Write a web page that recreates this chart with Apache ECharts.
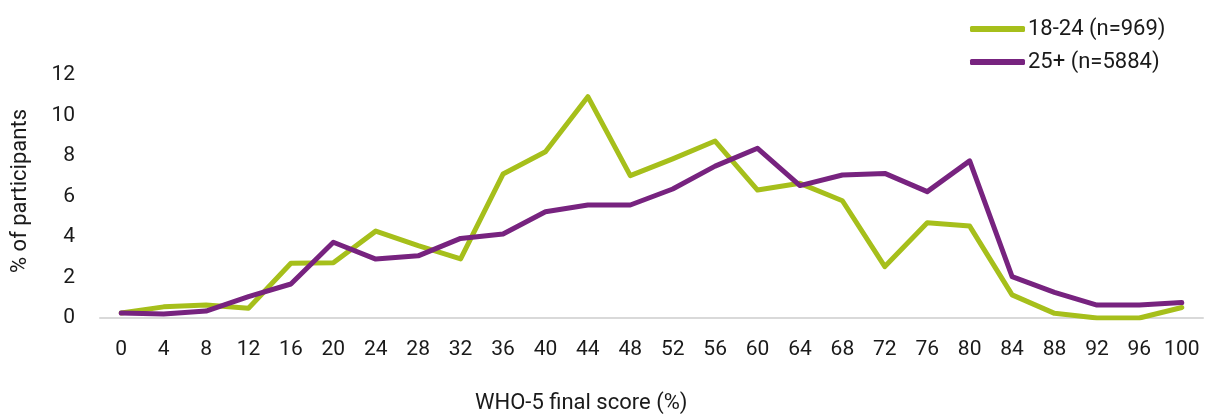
<!DOCTYPE html>
<html>
<head>
<meta charset="utf-8">
<script src="https://cdn.jsdelivr.net/npm/echarts@6/dist/echarts.min.js"></script>
<style>
html,body{margin:0;padding:0;background:#fff;}
#c{width:1209px;height:415px;}
</style>
</head>
<body>
<div id="c"></div>
<script>
const categories = ['0','4','8','12','16','20','24','28','32','36','40','44','48','52','56','60','64','68','72','76','80','84','88','92','96','100'];
const seriesNames = ['18-24 (n=969)', '25+ (n=5884)'];
const young = [0.25,0.55,0.64,0.48,2.7,2.73,4.29,3.57,2.92,7.11,8.21,10.93,7.03,7.86,8.74,6.32,6.65,5.79,2.54,4.7,4.54,1.14,0.23,0.0,0.0,0.52];
const older = [0.25,0.2,0.34,1.06,1.68,3.74,2.91,3.07,3.93,4.15,5.25,5.58,5.58,6.37,7.5,8.38,6.54,7.06,7.14,6.24,7.76,2.04,1.27,0.64,0.64,0.76];
const yTicks = [0,2,4,6,8,10,12];
const xTitle = 'WHO-5 final score (%)';
const yTitle = '% of participants';

const FONT = 'Roboto';
const GREEN = '#a6bf1b';
const PURPLE = '#77237f';

const chart = echarts.init(document.getElementById('c'), null, {renderer: 'canvas'});
chart.setOption({
  animation: false,
  backgroundColor: '#ffffff',
  textStyle: {fontFamily: FONT},
  grid: {left: 100, right: 6, top: 75, bottom: 97, containLabel: false},
  legend: {
    orient: 'vertical',
    left: 965,
    top: 13,
    itemWidth: 55,
    itemHeight: 6,
    itemGap: 11,
    icon: 'roundRect',
    textStyle: {fontFamily: FONT, fontSize: 22, color: '#1a1a1a', padding: [0,0,0,-2]},
    data: seriesNames
  },
  xAxis: {
    type: 'category',
    data: categories,
    boundaryGap: true,
    axisLine: {show: true, lineStyle: {color: '#d9d9d9', width: 2}},
    axisTick: {show: false},
    axisLabel: {fontFamily: FONT, fontSize: 21, color: '#1a1a1a', margin: 21, interval: 0}
  },
  yAxis: {
    type: 'value',
    min: yTicks[0],
    max: yTicks[yTicks.length - 1],
    interval: 2,
    axisLine: {show: false},
    axisTick: {show: false},
    splitLine: {show: false},
    axisLabel: {fontFamily: FONT, fontSize: 21, color: '#1a1a1a', margin: 25}
  },
  graphic: [
    {
      type: 'text',
      x: 20, y: 191,
      rotation: Math.PI / 2,
      style: {text: yTitle, fontFamily: FONT, fontSize: 22, fill: '#1a1a1a', align: 'center', verticalAlign: 'middle'}
    },
    {
      type: 'text',
      x: 475, y: 403,
      style: {text: xTitle, fontFamily: FONT, fontSize: 22, fill: '#1a1a1a', align: 'left', verticalAlign: 'middle'}
    }
  ],
  series: [
    {
      name: seriesNames[0],
      type: 'line',
      data: young,
      symbol: 'none',
      color: GREEN,
      lineStyle: {color: GREEN, width: 5, join: 'round', cap: 'round'},
      itemStyle: {color: GREEN}
    },
    {
      name: seriesNames[1],
      type: 'line',
      data: older,
      symbol: 'none',
      color: PURPLE,
      lineStyle: {color: PURPLE, width: 5, join: 'round', cap: 'round'},
      itemStyle: {color: PURPLE}
    }
  ]
});
</script>
</body>
</html>
